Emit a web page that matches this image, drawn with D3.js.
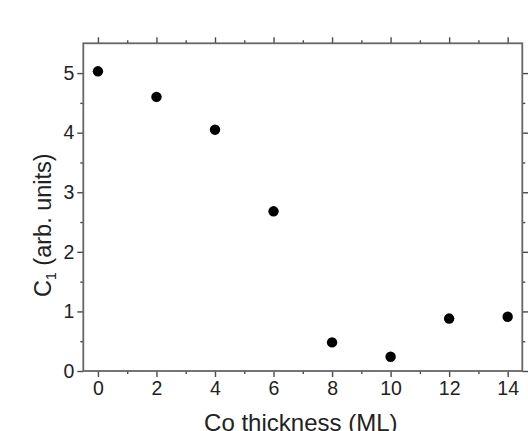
<!DOCTYPE html>
<html><head><meta charset="utf-8">
<script src="https://cdn.jsdelivr.net/npm/d3@7"></script>
<style>
html,body{margin:0;padding:0;background:#fff;}
svg{display:block;}
text{font-family:"Liberation Sans",Arial,sans-serif;fill:#222;}
</style></head>
<body>
<script>
const thickness = [0, 2, 4, 6, 8, 10, 12, 14];
const c1Values = [5.03, 4.60, 4.05, 2.68, 0.48, 0.24, 0.88, 0.91];
const xTicks = [0, 2, 4, 6, 8, 10, 12, 14];
const xMinorTicks = [1, 3, 5, 7, 9, 11, 13];
const yTicks = [0, 1, 2, 3, 4, 5];
const yMinorTicks = [0.5, 1.5, 2.5, 3.5, 4.5];

const W = 528, H = 431;
const L = 83.3, R = 522.3, T = 43.3, B = 371;
const svg = d3.select("body").append("svg").attr("width", W).attr("height", H);

const x = d3.scaleLinear().domain([-0.5, 14.5]).range([L, R]);
const y = d3.scaleLinear().domain([0, 5.5]).range([B, T]);

const axCol = "#4a4a4a";
function style(g){
  g.select(".domain").remove();
  g.selectAll(".tick line").attr("stroke", axCol).attr("stroke-width", 1.4);
  g.selectAll(".tick text").attr("font-size", 19.5).attr("fill", "#222");
}
svg.append("g").attr("transform", `translate(0,${B})`)
  .call(d3.axisBottom(x).tickValues(xTicks).tickSize(6).tickPadding(4).tickFormat(d3.format("d")))
  .call(style);
svg.append("g").attr("transform", `translate(0,${B})`)
  .call(d3.axisBottom(x).tickValues(xMinorTicks).tickSize(3).tickFormat(""))
  .call(style);
svg.append("g").attr("transform", `translate(0,${T})`)
  .call(d3.axisTop(x).tickValues(xTicks).tickSize(6).tickFormat(""))
  .call(style);
svg.append("g").attr("transform", `translate(0,${T})`)
  .call(d3.axisTop(x).tickValues(xMinorTicks).tickSize(3).tickFormat(""))
  .call(style);
svg.append("g").attr("transform", `translate(${L},0)`)
  .call(d3.axisLeft(y).tickValues(yTicks).tickSize(6).tickPadding(3).tickFormat(d3.format("d")))
  .call(style);
svg.append("g").attr("transform", `translate(${L},0)`)
  .call(d3.axisLeft(y).tickValues(yMinorTicks).tickSize(3).tickFormat(""))
  .call(style);
svg.append("g").attr("transform", `translate(${R},0)`)
  .call(d3.axisRight(y).tickValues(yTicks).tickSize(6).tickFormat(""))
  .call(style);
svg.append("g").attr("transform", `translate(${R},0)`)
  .call(d3.axisRight(y).tickValues(yMinorTicks).tickSize(3).tickFormat(""))
  .call(style);

svg.append("rect").attr("x", L).attr("y", T).attr("width", R - L).attr("height", B - T)
  .attr("fill", "none").attr("stroke", "#666").attr("stroke-width", 1.8);

svg.append("g").selectAll("circle").data(thickness).join("circle")
  .attr("cx", d => x(d)).attr("cy", (d, i) => y(c1Values[i]))
  .attr("r", 5.2).attr("fill", "#000");

svg.append("text").attr("x", (L + R) / 2 - 2).attr("y", 431)
  .attr("text-anchor", "middle").attr("font-size", 24).text("Co thickness (ML)");

const yt = svg.append("text").attr("transform", `translate(51,${(T + B) / 2 + 18}) rotate(-90)`)
  .attr("text-anchor", "middle").attr("font-size", 23.5);
yt.append("tspan").text("C");
yt.append("tspan").attr("font-size", 14).attr("dy", 5).text("1");
yt.append("tspan").attr("dy", -5).text(" (arb. units)");
</script>
</body></html>
